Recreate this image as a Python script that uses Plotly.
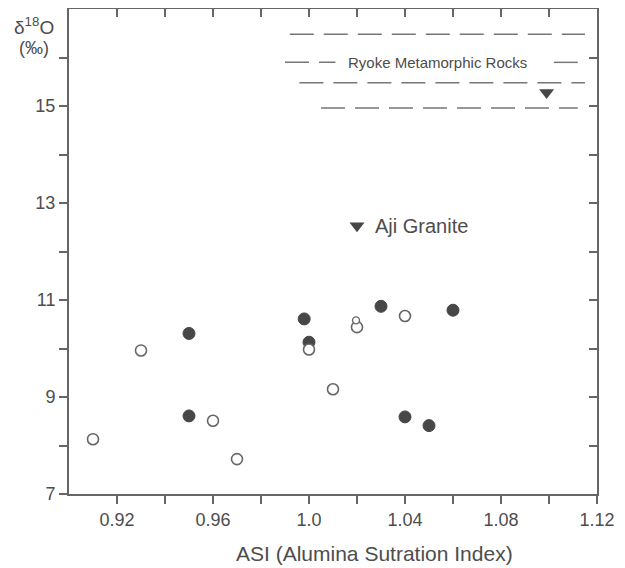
import plotly.graph_objects as go

# ---- data ----
filled_asi = [0.950, 0.950, 0.998, 1.000, 1.030, 1.040, 1.050, 1.060]
filled_d18o = [10.31, 8.61, 10.61, 10.13, 10.87, 8.59, 8.41, 10.79]

open_asi = [0.910, 0.930, 0.960, 0.970, 1.000, 1.010, 1.020, 1.040]
open_d18o = [8.13, 9.96, 8.51, 7.72, 9.98, 9.16, 10.44, 10.67]

small_open_asi = [1.0196]
small_open_d18o = [10.58]

aji_asi = [1.020]
aji_d18o = [12.53]

ryoke_asi = [1.099]
ryoke_d18o = [15.28]

# dashed band lines of the Ryoke field (segments; None = break)
band_x = [
    [0.992, 1.115],
    [0.990, 1.011, None, 1.102, 1.114],
    [0.996, 1.115],
    [1.005, 1.112],
]
band_y = [16.48, 15.90, 15.48, 14.96]

x_tickvals = [0.92, 0.96, 1.00, 1.04, 1.08, 1.12]
x_ticktext = ["0.92", "0.96", "1.0", "1.04", "1.08", "1.12"]
x_minorvals = [0.94, 0.98, 1.02, 1.06, 1.10]
y_tickvals = [7, 9, 11, 13, 15]
y_ticktext = ["7", "9", "11", "13", "15"]
y_minorvals = [8, 10, 12, 14, 16]

FONT = "Liberation Sans, Arial, Helvetica, sans-serif"
TXT = "#4d4d4d"
AX = "#666666"

fig = go.Figure()

for xs, yv in zip(band_x, band_y):
    fig.add_trace(go.Scatter(
        x=xs, y=[None if v is None else yv for v in xs],
        mode="lines", line=dict(color="#777777", width=1.5, dash="24px,10px"),
        hoverinfo="skip", showlegend=False, connectgaps=False))

fig.add_trace(go.Scatter(
    x=filled_asi, y=filled_d18o, mode="markers",
    marker=dict(symbol="circle", size=12, color="#474747",
                line=dict(color="#474747", width=1)),
    showlegend=False))

fig.add_trace(go.Scatter(
    x=open_asi, y=open_d18o, mode="markers",
    marker=dict(symbol="circle", size=11, color="white",
                line=dict(color="#666666", width=1.6)),
    showlegend=False))

fig.add_trace(go.Scatter(
    x=small_open_asi, y=small_open_d18o, mode="markers",
    marker=dict(symbol="circle", size=7, color="white",
                line=dict(color="#666666", width=1.4)),
    showlegend=False))

fig.add_trace(go.Scatter(
    x=aji_asi + ryoke_asi, y=aji_d18o + ryoke_d18o, mode="markers",
    marker=dict(symbol="triangle-down", size=13, color="#474747"),
    showlegend=False))

fig.add_trace(go.Scatter(x=[None], y=[None], xaxis="x2", yaxis="y2",
                         showlegend=False, hoverinfo="skip"))

axis_common = dict(showgrid=False, zeroline=False, showline=True,
                   linecolor=AX, linewidth=2, ticklen=8, tickwidth=1.5,
                   tickcolor=AX, tickfont=dict(family=FONT, size=18, color=TXT))


def minor(vals, side):
    return dict(tickmode="array", tickvals=vals, ticks=side, ticklen=8,
                tickwidth=1.5, tickcolor=AX, showgrid=False)


# page body has an 8px margin: figure coords = page coords - 8
W, H = 617, 560
L, T, R, B = 61, 1, 28, 74
pw, ph = W - L - R, H - T - B


def px(xp):
    return (xp - 8 - L) / pw


def py(yp):
    return (H - B - (yp - 8)) / ph


fig.update_layout(
    width=W, height=H,
    margin=dict(l=L, r=R, t=T, b=B),
    paper_bgcolor="white", plot_bgcolor="white",
    xaxis=dict(range=[0.90, 1.12], tickmode="array", tickvals=x_tickvals,
               ticktext=x_ticktext, ticks="outside",
               minor=minor(x_minorvals, "outside"), **axis_common),
    yaxis=dict(range=[7, 17], tickmode="array", tickvals=y_tickvals,
               ticktext=y_ticktext, ticks="outside",
               minor=minor(y_minorvals, "outside"), **axis_common),
    xaxis2=dict(range=[0.90, 1.12], overlaying="x", side="top",
                tickmode="array", tickvals=x_tickvals, showticklabels=False,
                ticks="inside", minor=minor(x_minorvals, "inside"),
                **axis_common),
    yaxis2=dict(range=[7, 17], overlaying="y", side="right",
                tickmode="array", tickvals=y_tickvals, showticklabels=False,
                ticks="inside", minor=minor(y_minorvals, "inside"),
                **axis_common),
    annotations=[
        dict(x=1.0535, y=band_y[1], xref="x", yref="y",
             text="Ryoke Metamorphic Rocks", showarrow=False,
             xanchor="center", yanchor="middle",
             font=dict(family=FONT, size=15, color=TXT)),
        dict(x=1.0267, y=aji_d18o[0], xref="x", yref="y",
             text="Aji Granite", showarrow=False, xanchor="left",
             yanchor="middle", font=dict(family=FONT, size=20, color=TXT)),
        dict(x=px(34), y=py(26), xref="paper", yref="paper",
             text="δ<sup>18</sup>O", showarrow=False, xanchor="center",
             yanchor="middle", font=dict(family=FONT, size=19, color=TXT)),
        dict(x=px(34), y=py(48), xref="paper", yref="paper",
             text="(‰)", showarrow=False, xanchor="center",
             yanchor="middle", font=dict(family=FONT, size=18, color=TXT)),
        dict(x=px(374), y=py(553), xref="paper", yref="paper",
             text="ASI (Alumina Sutration Index)", showarrow=False,
             xanchor="center", yanchor="middle",
             font=dict(family=FONT, size=21, color=TXT)),
    ],
)

fig.write_html("out.html")
